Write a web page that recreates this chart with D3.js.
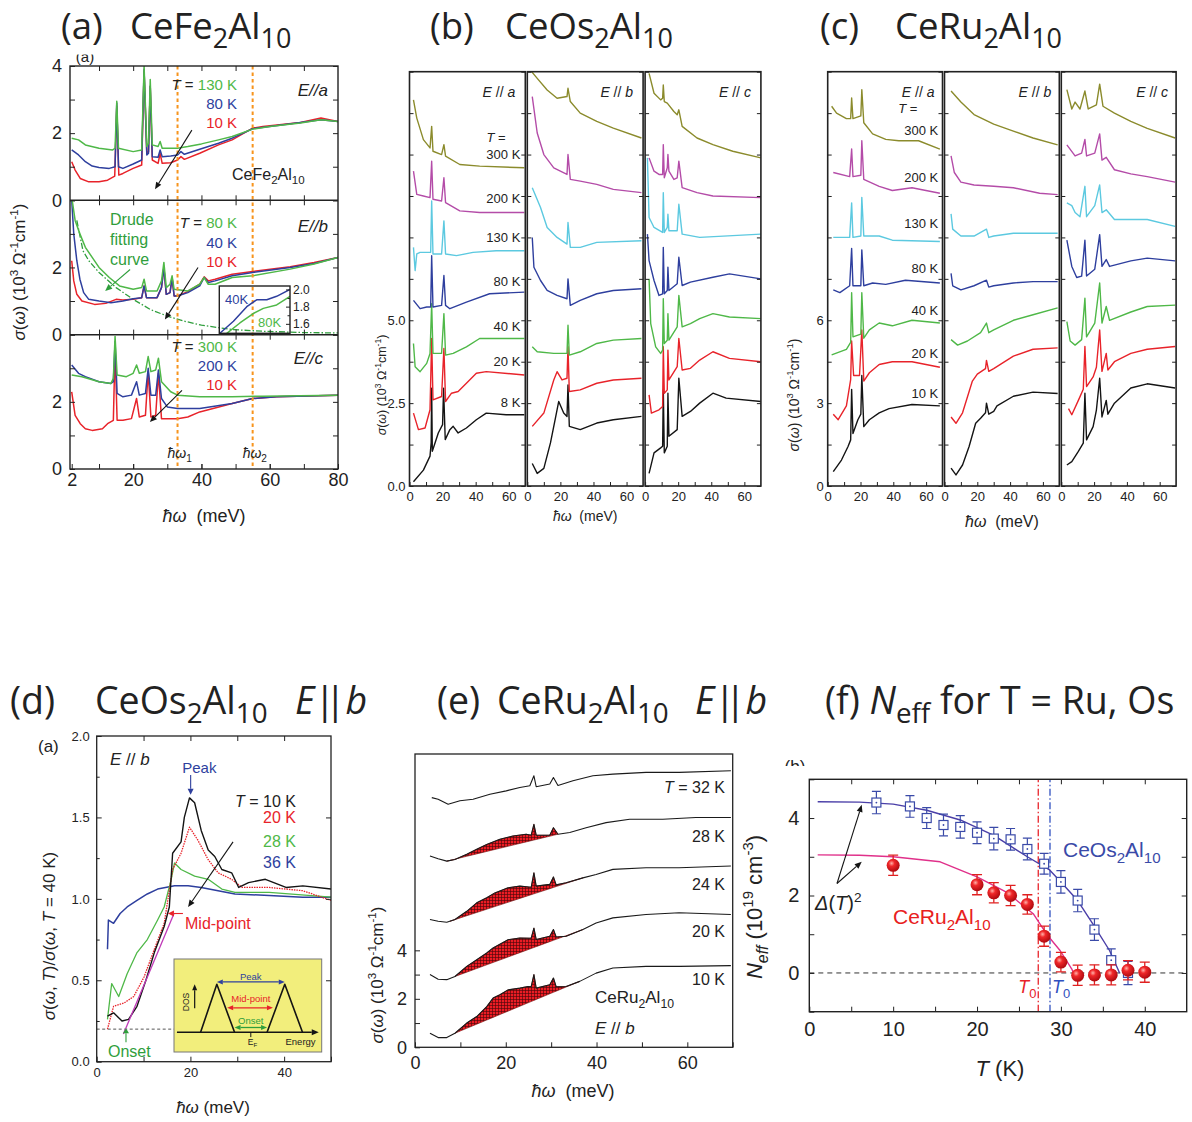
<!DOCTYPE html>
<html>
<head>
<meta charset="utf-8">
<script src="https://cdn.jsdelivr.net/npm/d3@7"></script>
<style>
  body { margin: 0; background: #fff; }
  svg text { white-space: pre; }
</style>
</head>
<body>
<svg id="fig" width="1192" height="1122"></svg>
<script>
// ===================== (a) CeFe2Al10 : sigma(omega) [10^3 Ohm^-1 cm^-1] vs meV =====================
const a_Ea_130K = [[2,1.85],[4,1.8],[6,1.65],[10,1.55],[14,1.5],[14.7,1.55],[15.2,2.95],[15.7,1.55],[20,1.45],[22.5,1.5],[23.2,4.0],[24,1.6],[24.5,1.7],[25,3.6],[25.6,1.65],[27.3,1.6],[27.9,1.75],[28.5,1.55],[33,1.55],[36,1.6],[40,1.68],[45,1.8],[49,1.9],[55,2.12],[60,2.2],[69,2.3],[75,2.4],[80,2.35]];
const a_Ea_80K  = [[2,1.5],[4,1.35],[6,1.15],[8,1.02],[10,0.98],[13,0.95],[14.7,1.0],[15.2,2.9],[15.7,1.0],[17,0.95],[20,1.08],[22.5,1.2],[23.2,3.9],[24,1.35],[24.5,1.4],[25,3.4],[25.6,1.3],[27.3,1.28],[27.9,1.5],[28.5,1.3],[31,1.32],[33,1.35],[34,1.45],[35,1.37],[39.5,1.52],[45,1.7],[49,1.85],[55,2.13],[60,2.2],[69,2.32],[75,2.4],[80,2.35]];
const a_Ea_10K  = [[2,1.15],[3,0.9],[4.5,0.65],[7,0.55],[10,0.55],[12.5,0.6],[14.6,0.72],[15.2,2.8],[15.8,0.75],[17,0.8],[20,0.95],[22.5,1.05],[23.2,3.85],[24,1.4],[24.5,1.45],[25,3.4],[25.6,1.2],[27.3,1.1],[27.9,1.4],[28.5,1.1],[31,1.12],[33,1.2],[34,1.3],[35,1.22],[39.5,1.4],[45,1.65],[49,1.8],[55,2.15],[58,2.2],[69,2.32],[75,2.45],[80,2.35]];

const a_Eb_80K = [[2,4.1],[3,3.4],[4.4,3.0],[6,2.6],[8,2.3],[10,2.0],[13,1.7],[16,1.45],[20,1.35],[22.5,1.4],[23.2,1.65],[23.9,1.3],[27,1.3],[28.3,1.6],[29,2.15],[29.7,1.4],[30.8,1.5],[31.4,1.75],[32,1.35],[36,1.3],[39.5,1.5],[40.8,1.7],[42,1.5],[44,1.5],[49,1.7],[55,1.75],[66,1.95],[73,2.1],[80,2.3]];
const a_Eb_40K = [[2,4.0],[2.6,3.0],[3.5,2.2],[4.4,1.65],[5.5,1.25],[7,1.05],[10,1.0],[13.5,0.95],[17,1.0],[20,1.07],[22.5,1.1],[23.2,1.45],[23.9,1.1],[27,1.1],[28.3,1.4],[29,2.0],[29.7,1.2],[30.8,1.25],[31.4,1.7],[32,1.15],[33,1.15],[36,1.25],[39.5,1.45],[40.8,1.7],[42,1.55],[44,1.6],[49,1.75],[55,1.85],[66,2.0],[73,2.12],[80,2.3]];
const a_Eb_10K = [[2,2.2],[2.6,1.6],[3.5,1.2],[5,1.0],[8.7,0.9],[12,0.93],[15,1.05],[17,1.03],[20,1.05],[22.5,1.1],[23.2,1.45],[23.9,1.1],[27,1.1],[28.3,1.4],[29,2.0],[29.7,1.2],[30.8,1.25],[31.4,1.7],[32,1.15],[33,1.15],[36,1.28],[39.5,1.5],[40.8,1.72],[42,1.6],[44,1.65],[49,1.8],[55,1.88],[66,2.02],[73,2.15],[80,2.3]];
const a_drude  = [[3.5,3.4],[5.3,2.5],[7,2.2],[10,1.85],[15,1.4],[20,1.05],[25,0.75],[30,0.55],[35,0.4],[40,0.28],[49,0.15],[58,0.1],[70,0.06],[80,0.05]];
// inset of the E//b frame
const a_in_40K = [[45.3,1.49],[52,1.63],[58.6,1.8],[63.5,1.88],[68.5,1.88],[73.4,1.92],[80,2.0]];
const a_in_80K = [[48.7,1.49],[55.2,1.61],[61.8,1.72],[66.8,1.78],[73.4,1.82],[80,1.92]];

const a_Ec_300K = [[2,2.8],[5,2.75],[10,2.6],[13.5,2.55],[14.2,2.7],[14.7,3.95],[15.3,2.8],[18,2.75],[20,2.85],[21,3.1],[21.8,2.85],[23.6,2.9],[24.4,3.35],[25.2,2.9],[26.6,2.95],[27.4,3.3],[28.3,2.6],[31,2.3],[33,2.2],[39.5,2.15],[49,2.15],[58,2.17],[80,2.2]];
const a_Ec_200K = [[2,3.1],[4,2.85],[6,2.75],[10,2.6],[13.5,2.55],[14.2,2.6],[14.7,3.8],[15.3,2.25],[17,2.15],[19.5,2.2],[21,2.6],[21.8,2.2],[23.6,2.25],[24.4,3.0],[25.2,2.2],[26.6,2.2],[27.4,2.95],[28.3,2.1],[30,1.85],[33,1.8],[39.5,1.8],[49,1.95],[55,2.1],[62,2.15],[80,2.2]];
const a_Ec_10K  = [[2,2.3],[3,1.6],[4.5,1.35],[6,1.2],[8,1.15],[11,1.2],[12.5,1.35],[14.2,1.45],[14.7,3.6],[15.3,1.45],[17,1.45],[19.5,1.5],[21,2.1],[21.8,1.55],[23.6,1.6],[24.4,2.9],[25.2,1.55],[26.6,1.6],[27.4,2.85],[28.3,1.5],[30,1.5],[33,1.5],[36,1.55],[39.5,1.7],[49,1.95],[55,2.1],[62,2.15],[80,2.2]];
const a_omegaMarks = [33, 55];

// ===================== (b) CeOs2Al10 : 8 K ... 300 K =====================
const b_a_8K   = [[2.4,0.13],[8.4,0.48],[12.4,0.9],[13.1,1.3],[13.4,2.95],[13.8,1.05],[17.4,1.6],[20,1.85],[20.6,2.95],[21.6,1.4],[24.4,1.7],[26.4,1.8],[29.4,1.6],[34.4,1.75],[40.4,2.0],[46.4,2.2],[58.4,2.15],[69.4,2.15]];
const b_a_20K  = [[2.4,2.2],[5.4,1.7],[9.4,1.75],[12.4,2.3],[13.4,4.45],[14.2,2.6],[19.4,2.7],[20.8,4.15],[21.8,2.55],[25.4,2.8],[29.4,2.85],[34.4,3.1],[40.4,3.4],[46.4,3.45],[69.4,3.35]];
const b_a_40K  = [[2.4,4.3],[3.4,3.6],[6.4,3.45],[10.4,3.7],[12.4,4.0],[13.4,5.5],[14.2,4.0],[19.4,4.0],[20.8,5.2],[21.8,3.95],[26.4,4.0],[34.4,4.2],[42.4,4.45],[69.4,4.45]];
const b_a_80K  = [[2.4,5.6],[6.4,5.35],[10.4,5.4],[12.8,5.4],[13.4,6.95],[14.2,5.4],[19.4,5.45],[20.8,6.35],[21.8,5.45],[24.4,5.35],[34.4,5.55],[48.4,5.8],[69.4,5.85]];
const b_a_130K = [[2.4,7.2],[3.4,6.5],[4.4,7.0],[6.4,7.05],[12.8,7.05],[13.4,8.6],[14.2,7.0],[19.4,7.0],[20.8,8.0],[21.8,7.0],[28.4,6.95],[38.4,7.05],[52.4,7.1],[69.4,7.1]];
const b_a_200K = [[2.4,9.5],[4.4,8.8],[8.4,8.75],[12.4,8.7],[13.4,9.8],[14.2,8.65],[19.4,8.6],[20.8,9.3],[21.8,8.55],[30.4,8.3],[42.4,8.25],[69.4,8.25]];
const b_a_300K = [[2.4,11.65],[4.4,11.1],[8.4,10.45],[12.4,10.2],[13.4,10.85],[14.2,10.1],[19.4,10.0],[20.8,10.3],[21.8,9.95],[30.4,9.7],[42.4,9.65],[69.4,9.6]];

const b_b_8K   = [[3,0.68],[6,0.38],[10,0.53],[14,1.3],[17,2.05],[19,2.55],[22,2.2],[24,2.1],[24.6,3.05],[25.4,1.8],[32,1.7],[42,1.9],[52,2.0],[69,2.1]];
const b_b_20K  = [[3,1.8],[10,2.2],[16,3.2],[18,3.45],[21,3.2],[24,3.25],[24.6,4.2],[25.4,2.85],[32,2.9],[42,3.1],[52,3.2],[69,3.25]];
const b_b_40K  = [[3,4.2],[6,4.05],[16,4.0],[24,4.0],[24.6,4.85],[25.4,3.95],[32,4.05],[42,4.3],[52,4.4],[69,4.45]];
const b_b_80K  = [[3,7.5],[4,6.6],[8,6.2],[12,5.9],[18,5.75],[24,5.65],[24.6,6.25],[26,5.45],[32,5.6],[42,5.8],[52,5.9],[69,5.95]];
const b_b_130K = [[3,9.0],[8,8.4],[12,7.8],[18,7.5],[24,7.3],[24.6,7.95],[26,7.2],[32,7.2],[42,7.35],[69,7.4]];
const b_b_200K = [[3,11.75],[6,10.65],[10,10.0],[16,9.6],[24,9.4],[24.6,10.0],[26,9.25],[32,9.2],[42,9.1],[52,8.95],[69,8.85]];
const b_b_300K = [[1,12.6],[6,12.3],[12,11.95],[18,11.7],[24,11.75],[24.6,12.0],[26,11.6],[32,11.25],[42,11.0],[52,10.8],[69,10.5]];

const b_c_8K   = [[2.4,0.38],[5.4,1.0],[9.4,1.15],[10.6,1.2],[11,2.9],[11.6,1.0],[13.4,1.2],[13.8,2.8],[14.4,1.5],[19.4,1.7],[20.4,3.25],[22.4,2.1],[27.4,2.25],[33,2.5],[41,2.8],[49,2.65],[70,2.55]];
const b_c_20K  = [[2.4,2.75],[3.8,2.2],[8.4,2.3],[10.6,2.4],[11,4.2],[11.6,2.8],[13.4,2.9],[13.8,4.1],[14.4,3.2],[19.4,3.6],[20.4,4.45],[22.4,3.5],[27.4,3.55],[33,3.8],[41,4.05],[51,3.85],[70,3.75]];
const b_c_40K  = [[2.4,6.25],[3.4,4.9],[6.4,4.2],[9.4,4.0],[10.6,4.1],[11,5.65],[11.6,4.3],[13.4,4.4],[13.8,5.2],[14.4,4.4],[19.4,4.8],[20.4,5.75],[22.4,4.8],[27.4,4.9],[33,5.05],[41,5.2],[51,5.1],[70,5.05]];
const b_c_80K  = [[1.4,7.6],[2.4,6.8],[5.4,6.2],[8.4,5.75],[10.6,5.8],[11,7.2],[11.6,5.8],[13.4,5.9],[13.8,6.6],[14.4,5.9],[19.4,6.1],[20.4,6.9],[22.4,6.05],[27.4,6.15],[41,6.3],[51,6.4],[70,6.25]];
const b_c_130K = [[1.4,9.9],[2.4,8.1],[5.4,7.8],[10.6,7.65],[11,8.85],[11.6,7.65],[13.4,7.8],[13.8,8.2],[14.4,7.7],[19.4,7.7],[20.4,8.5],[22.4,7.6],[33,7.5],[70,7.6]];
const b_c_200K = [[2.4,9.9],[5.4,9.5],[8.4,9.4],[10.6,9.4],[11,10.3],[11.6,9.3],[13.4,9.6],[13.8,10.0],[14.4,9.5],[17.4,9.25],[19.4,9.3],[20.4,9.8],[22.4,9.0],[31.4,8.85],[41,8.75],[70,8.7]];
const b_c_300K = [[2.4,12.45],[5.4,11.85],[9.4,11.65],[10.6,11.7],[11,12.1],[11.6,11.6],[13.4,11.55],[17.4,11.3],[19.4,11.2],[20.4,11.35],[22.4,10.85],[31.4,10.5],[41,10.3],[53,10.1],[70,9.9]];
const b_temps = ['8 K', '20 K', '40 K', '80 K', '130 K', '200 K', '300 K'];
const b_tempLabelY = [2.38, 3.62, 4.67, 6.03, 7.36, 8.54, 9.87];

// ===================== (c) CeRu2Al10 : 10 K ... 300 K =====================
const c_a_10K   = [[3.4,0.52],[8.4,0.94],[12.4,1.43],[14,1.67],[14.6,3.5],[15.4,1.9],[18.4,2.4],[20.2,2.6],[20.8,4.0],[22,2.15],[25.4,2.4],[31.4,2.65],[37.4,2.8],[51.4,2.95],[68.4,2.9]];
const c_a_20K   = [[3.4,2.6],[6.4,2.4],[11.4,2.9],[14,3.85],[14.6,5.25],[15.8,4.0],[19.4,4.0],[20.8,5.65],[22,3.8],[25.4,4.1],[31.4,4.4],[39.4,4.5],[51.4,4.5],[68.4,4.3]];
const c_a_40K   = [[2.4,4.75],[11.4,4.95],[14,5.2],[14.6,7.0],[15.4,5.4],[20.2,5.5],[20.8,7.0],[22,5.35],[25.4,5.65],[31.4,5.9],[39.4,5.8],[51.4,6.0],[68.4,5.9]];
const c_a_80K   = [[3.4,7.1],[7.4,7.0],[13.4,7.25],[14.6,8.6],[15.4,7.25],[20.2,7.25],[20.8,8.55],[22,7.25],[27.4,7.35],[35.4,7.3],[47.4,7.45],[68.4,7.35]];
const c_a_130K  = [[3.4,9.0],[13.4,9.0],[14.6,10.25],[15.4,9.0],[20.2,9.05],[20.8,10.45],[22,9.05],[31.4,9.05],[39.4,8.9],[68.4,8.85]];
const c_a_200K  = [[3.4,11.35],[13.4,11.2],[14.6,12.2],[15.4,11.2],[20.2,11.25],[20.8,12.5],[22,11.1],[31.4,10.85],[39.4,10.7],[51.4,10.8],[68.4,10.6]];
const c_a_300K  = [[2.4,13.75],[5.4,13.5],[11.4,13.3],[14,13.3],[14.6,14.05],[15.4,13.3],[20.2,13.4],[20.8,14.35],[22,13.15],[27.4,12.75],[35.4,12.55],[43.4,12.5],[55.4,12.5],[68.4,12.2]];

const c_b_10K   = [[4,0.65],[7,0.4],[11,0.76],[15,1.43],[19,2.27],[22,2.45],[25,2.65],[25.6,3.0],[27,2.6],[30,2.7],[32,2.9],[42,3.25],[54,3.4],[69,3.35]];
const c_b_20K   = [[4,2.5],[7,2.27],[11,2.65],[17,3.8],[20,4.05],[25,4.25],[25.6,4.55],[27,4.15],[30,4.25],[42,4.7],[54,4.95],[69,5.0]];
const c_b_40K   = [[4,5.3],[8,5.1],[14,5.25],[22,5.55],[25.6,5.9],[27,5.55],[30,5.65],[42,6.0],[54,6.2],[69,6.45]];
const c_b_80K   = [[4,7.7],[5,7.25],[10,7.1],[18,7.25],[25.6,7.45],[27,7.2],[30,7.25],[42,7.35],[54,7.4],[69,7.4]];
const c_b_130K  = [[4,9.85],[5,9.3],[10,9.05],[18,9.05],[25.6,9.3],[27,9.0],[30,9.05],[42,9.15],[69,9.15]];
const c_b_200K  = [[4,11.95],[6,11.35],[10,11.0],[18,10.9],[30,10.85],[42,10.8],[58,10.6],[69,10.55]];
const c_b_300K  = [[4,14.3],[10,13.9],[18,13.45],[30,13.1],[42,12.85],[54,12.6],[69,12.35]];

const c_c_10K   = [[3.4,0.76],[6.4,0.88],[10.4,1.25],[13.4,1.55],[14.4,3.36],[15.4,1.67],[19.4,2.15],[21.4,2.75],[23.4,3.9],[24.8,2.5],[27.4,3.1],[28.4,2.6],[32.4,3.0],[42.4,3.55],[52.4,3.7],[69.4,3.55]];
const c_c_20K   = [[4.4,2.8],[6.4,2.58],[10.4,3.1],[13.4,3.5],[14.4,5.05],[15.4,3.6],[19.4,3.95],[21.4,4.3],[23.4,5.65],[24.8,4.15],[27.4,4.8],[28.4,4.2],[32.4,4.5],[42.4,4.8],[52.4,4.95],[69.4,5.05]];
const c_c_40K   = [[3.4,5.95],[5.4,5.25],[8.4,5.1],[12.4,5.3],[14.4,6.8],[15.4,5.4],[20.4,5.9],[23.4,7.35],[24.8,5.9],[27.4,6.5],[29.4,6.0],[42.4,6.3],[52.4,6.5],[69.4,6.55]];
const c_c_80K   = [[3.4,8.9],[6.4,7.95],[9.4,7.55],[12.4,7.6],[14.4,8.9],[15.4,7.6],[20.4,7.85],[23.4,9.1],[24.8,7.95],[27.4,8.2],[29.4,7.95],[42.4,8.15],[52.4,8.25],[69.4,8.15]];
const c_c_130K  = [[3.4,10.25],[6.4,10.15],[8.4,9.9],[11.4,9.75],[14.4,10.85],[15.4,9.75],[20.4,10.15],[23.4,10.9],[24.8,9.9],[27.4,10.0],[32.4,9.65],[52.4,9.65],[69.4,9.4]];
const c_c_200K  = [[3.4,12.35],[8.4,11.95],[12.4,12.05],[14.4,12.55],[15.4,11.95],[20.4,12.05],[23.4,12.75],[24.8,11.8],[27.4,11.9],[32.4,11.45],[42.4,11.3],[52.4,11.2],[69.4,11.0]];
const c_c_300K  = [[3.4,14.35],[6.4,13.65],[8.4,13.9],[11.4,13.65],[14.4,14.3],[16.4,13.65],[21.4,13.8],[23.4,14.55],[25.4,13.75],[32.4,13.5],[42.4,13.2],[52.4,12.95],[69.4,12.6]];
const c_temps = ['10 K', '20 K', '40 K', '80 K', '130 K', '200 K', '300 K'];
const c_tempLabelY = [3.19, 4.63, 6.19, 7.71, 9.34, 11.0, 12.71];

// ===================== (d) CeOs2Al10 E||b : sigma(T)/sigma(40 K) =====================
const d_10K = [[2.3,0.28],[3.6,0.3],[5.4,0.25],[6.8,0.26],[8.6,0.34],[10.5,0.5],[12.3,0.67],[14.4,0.83],[15.5,0.95],[16.2,1.28],[18,1.35],[18.7,1.5],[19.8,1.62],[20.9,1.59],[22.3,1.42],[23.8,1.3],[25.2,1.26],[26.7,1.18],[28.8,1.16],[30.3,1.07],[32.4,1.1],[36,1.12],[40.4,1.07],[44,1.08],[50,1.06]];
const d_20K = [[2.3,0.2],[3.6,0.34],[5.8,0.36],[7.9,0.4],[10.1,0.52],[12.3,0.69],[14.4,0.85],[16.2,1.18],[18,1.28],[19.8,1.44],[21.6,1.36],[23.8,1.24],[25.9,1.16],[28.8,1.12],[31,1.07],[36.8,1.07],[44,1.05],[50,0.99]];
const d_28K = [[2.3,0.26],[3.2,0.48],[4.7,0.4],[6.5,0.54],[8.6,0.67],[10.8,0.75],[13,0.87],[14.4,0.95],[15.9,1.12],[16.6,1.22],[18,1.18],[20.9,1.14],[23.8,1.12],[26.7,1.06],[29.5,1.04],[36.8,1.04],[50,1.01]];
const d_36K = [[2.3,0.69],[2.5,0.87],[3.6,0.85],[5,0.91],[6.5,0.95],[8.6,0.99],[10.8,1.03],[13,1.06],[16.6,1.08],[19.5,1.08],[22.3,1.07],[29.5,1.03],[36.8,1.02],[44,1.01],[50,1.01]];
const d_onsetFit = [[5.7,0.17],[16.5,0.91]];
const d_onsetLevel = 0.2;

// ===================== (e) CeRu2Al10 E||b : stacked spectra with gap area =====================
const e_10K = [[3.3,0.58],[5.1,0.4],[7,0.4],[8.8,0.58],[11.4,1.0],[13.6,1.27],[15.8,1.68],[17.2,2.03],[18.7,2.17],[20.5,2.37],[23.1,2.44],[24.9,2.51],[25.6,2.5],[26.2,3.0],[26.7,2.44],[29.7,2.58],[30.5,2.86],[31.1,2.5],[33.3,2.51],[36.3,2.72],[39.9,3.06],[43.6,3.27],[50.9,3.34],[58.2,3.34],[69.6,3.37]];
const e_20K = [[3.3,3.0],[5.1,2.81],[7,2.79],[8.8,2.92],[11.4,3.34],[13.6,3.61],[15.8,3.89],[17.2,4.1],[20.5,4.44],[23.1,4.51],[25.6,4.5],[26.2,4.92],[26.7,4.45],[29.7,4.58],[30.5,4.86],[31.1,4.55],[33.3,4.58],[37,4.86],[39.9,5.13],[43.6,5.34],[50.9,5.48],[58.2,5.55],[69.6,5.48]];
const e_24K = [[3.3,5.27],[5.1,5.2],[7,5.16],[8.8,5.27],[11.4,5.61],[13.6,5.96],[15.8,6.17],[17.6,6.37],[20.5,6.58],[23.1,6.65],[25.6,6.6],[26.2,7.2],[26.7,6.65],[29.7,6.72],[30.5,7.03],[31.1,6.7],[33.3,6.79],[37,6.99],[39.9,7.13],[43.6,7.34],[50.9,7.41],[58.2,7.41],[69.6,7.48]];
const e_28K = [[3.3,7.89],[5.1,7.78],[7,7.68],[8.8,7.75],[11.4,7.96],[13.6,8.17],[15.8,8.37],[18.7,8.58],[21.6,8.72],[24.5,8.79],[25.6,8.75],[26.2,9.2],[26.7,8.75],[29.7,8.75],[30.5,9.06],[31.5,8.79],[34.1,8.86],[37.7,9.06],[42.1,9.27],[47.3,9.41],[54.6,9.41],[61.9,9.48],[69.6,9.48]];
const e_32K = [[3.7,10.3],[5.1,10.23],[7.3,10.03],[9.9,10.17],[12.8,10.23],[16.5,10.44],[20.1,10.58],[23.1,10.72],[25.3,10.79],[26.2,11.2],[26.7,10.75],[29.7,10.86],[30.5,11.13],[31.5,10.8],[34.8,11.0],[39.2,11.2],[43.6,11.27],[50.9,11.34],[58.2,11.34],[69.6,11.41]];
const e_base10 = [[8.8,0.58],[36.3,2.72]];
const e_base20 = [[8.8,2.92],[37,4.86]];
const e_base24 = [[7.7,5.2],[37,6.99]];
const e_base28 = [[7,7.68],[31.5,8.79]];
const e_temps = ['10 K', '20 K', '24 K', '28 K', 'T = 32 K'];
const e_tempLabelY = [2.57, 4.55, 6.49, 8.47, 10.5];

// ===================== (f) N_eff vs T =====================
const f_os_T   = [8,12,14,16,18,20,22,24,26,28,30,32,34,36,38];
const f_os_N   = [4.4,4.3,4.0,3.82,3.77,3.62,3.47,3.45,3.2,2.82,2.35,1.87,1.12,0.33,0.0];
const f_os_err = [0.29,0.28,0.27,0.28,0.29,0.28,0.29,0.28,0.28,0.27,0.29,0.29,0.28,0.29,0.3];
const f_ru_T   = [10,20,22,24,26,28,30,32,34,36,38,40];
const f_ru_N   = [2.78,2.28,2.07,2.0,1.77,0.95,0.28,-0.06,-0.05,-0.05,0.07,0.02];
const f_ru_err = [0.26,0.26,0.26,0.26,0.25,0.26,0.25,0.26,0.26,0.26,0.25,0.26];
const f_os_fit = [[1,4.42],[6,4.41],[10,4.36],[14,4.2],[18,3.95],[22,3.55],[26,3.0],[28.6,2.67],[30,2.35],[32,1.87],[34,1.2],[35.8,0.58],[37,0.0]];
const f_ru_fit = [[1,3.05],[6,3.04],[10,3.0],[15.6,2.87],[20,2.48],[23.5,2.09],[26.7,1.53],[28.3,1.0],[29.9,0.58],[31.3,0.1],[31.5,0.0]];
const f_T0 = { ru: 27.3, os: 28.7 };

// ===================== drawing helpers =====================
const FONT = '"Liberation Sans", Arial, Helvetica, sans-serif';
const TFONT = '"Open Sans", "Noto Sans", sans-serif';
const COL = { red: '#e8232a', blue: '#2e3f9e', green: '#4fb848', cyan: '#5cc9e0', magenta: '#b44ca8',
              olive: '#8b8b2c', black: '#141414', orange: '#f7941d', ink: '#222' };
const svg = d3.select('#fig');
const defs = svg.append('defs');

let clipN = 0;
function clipRect(x, y, w, h) {
  const id = 'clip' + (clipN++);
  defs.append('clipPath').attr('id', id).append('rect').attr('x', x).attr('y', y).attr('width', w).attr('height', h);
  return `url(#${id})`;
}

// text with italic / sub / superscript runs; a run may also carry its own colour or letter spacing
function rich(g, x, y, parts, fs, o = {}) {
  const t = g.append('text').attr('font-size', fs)
    .attr('font-family', o.family || FONT).attr('fill', o.fill || COL.ink)
    .attr('text-anchor', o.anchor || 'start');
  if (o.rotate) t.attr('x', 0).attr('y', 0).attr('transform', `translate(${x},${y}) rotate(-90)`);
  else t.attr('x', x).attr('y', y);
  let shift = 0;
  parts.forEach(p => {
    const [s, k = '', col, ls] = Array.isArray(p) ? p : [p];
    let target = 0, size = fs;
    if (k.includes('sub')) { target = fs * (o.subShift || 0.28); size = fs * (o.subSize || 0.72); }
    if (k.includes('sup')) { target = -fs * 0.4; size = fs * 0.68; }
    const ts = t.append('tspan').text(s).attr('font-size', size).attr('dy', target - shift);
    if (k.includes('i')) ts.attr('font-style', 'italic');
    if (col) ts.attr('fill', col);
    if (ls !== undefined) ts.attr('letter-spacing', ls);
    shift = target;
  });
  return t;
}

function arrow(g, x1, y1, x2, y2, col, o = {}) {
  const sw = o.sw || 1.1, hl = o.hl || 7, hw = o.hw || 3;
  const ang = Math.atan2(y2 - y1, x2 - x1);
  const head = (xe, ye, a) => {
    const bx = xe - hl * Math.cos(a), by = ye - hl * Math.sin(a);
    const px = -Math.sin(a) * hw, py = Math.cos(a) * hw;
    g.append('path').attr('d', `M${xe},${ye}L${bx + px},${by + py}L${bx - px},${by - py}Z`).attr('fill', col);
    return [bx, by];
  };
  const [ex, ey] = head(x2, y2, ang);
  let sx = x1, sy = y1;
  if (o.both) [sx, sy] = head(x1, y1, ang + Math.PI);
  g.append('line').attr('x1', sx).attr('y1', sy).attr('x2', ex).attr('y2', ey)
    .attr('stroke', col).attr('stroke-width', sw);
}

// inward ticks on one side; labels only for values listed in o.labels
function sideAxis(g, scale, orient, pos, values, o = {}) {
  const mk = { bottom: d3.axisBottom, top: d3.axisTop, left: d3.axisLeft, right: d3.axisRight }[orient];
  const tr = (orient === 'bottom' || orient === 'top') ? `translate(0,${pos})` : `translate(${pos},0)`;
  const fmt = o.fmt || (d => String(d));
  const lab = o.labels || [];
  const ax = mk(scale).tickValues(values).tickSize(-(o.len || 5)).tickPadding(o.pad || 4)
    .tickFormat(d => lab.some(v => Math.abs(v - d) < 1e-9) ? fmt(d) : '');
  const a = g.append('g').attr('transform', tr).call(ax);
  a.select('.domain').remove();
  a.selectAll('line').attr('stroke', COL.ink).attr('stroke-width', o.sw || 1);
  a.selectAll('text').attr('font-size', o.fs || 13).attr('fill', COL.ink).attr('font-family', FONT);
  return a;
}

function frame(g, x, y, sw) {
  const [x0, x1] = x.range(), [y0, y1] = y.range();
  g.append('rect').attr('x', Math.min(x0, x1)).attr('y', Math.min(y0, y1))
    .attr('width', Math.abs(x1 - x0)).attr('height', Math.abs(y1 - y0))
    .attr('fill', 'none').attr('stroke', COL.ink).attr('stroke-width', sw || 1.3);
}

function curve(g, data, x, y, col, sw, dash) {
  const p = g.append('path').datum(data)
    .attr('d', d3.line().x(d => x(d[0])).y(d => y(d[1])))
    .attr('fill', 'none').attr('stroke', col).attr('stroke-width', sw || 1.4)
    .attr('stroke-linejoin', 'round');
  if (dash) p.attr('stroke-dasharray', dash);
  return p;
}

const sigmaLabel = [['σ', 'i'], '(', ['ω', 'i'], ') (10', ['3', 'sup'], ' Ω', ['-1', 'sup'], 'cm', ['-1', 'sup'], ')'];
const hwLabel = [['ħω', 'i'], '  (meV)'];

// ===================== titles =====================
const titles = svg.append('g').attr('font-family', TFONT);
const TFS = 36.5, BFS = 37.5, TB = 39, BB = 714;
const tf = { family: TFONT, subShift: 0.24, subSize: 0.74 };
const eParB = [['E', 'i'], ['|', '', null, -10], ['|', '', null, 0], ['b', 'i']];
rich(titles, 61, TB, ['(a)'], TFS, tf);
rich(titles, 130, TB, ['CeFe', ['2', 'sub'], 'Al', ['10', 'sub']], TFS, tf);
rich(titles, 430, TB, ['(b)'], TFS, tf);
rich(titles, 505, TB, ['CeOs', ['2', 'sub'], 'Al', ['10', 'sub']], TFS, tf);
rich(titles, 820, TB, ['(c)'], TFS, tf);
rich(titles, 895, TB, ['CeRu', ['2', 'sub'], 'Al', ['10', 'sub']], TFS, tf);
rich(titles, 10, BB, ['(d)'], BFS, tf);
rich(titles, 95, BB, ['CeOs', ['2', 'sub'], 'Al', ['10', 'sub']], BFS, tf);
rich(titles, 295, BB, eParB, BFS, tf);
rich(titles, 437, BB, ['(e)'], BFS, tf);
rich(titles, 497, BB, ['CeRu', ['2', 'sub'], 'Al', ['10', 'sub']], BFS, tf);
rich(titles, 695, BB, eParB, BFS, tf);
rich(titles, 825, BB, ['(f) ', ['N', 'i'], ['eff', 'sub'], ' for T = Ru, Os'], BFS, tf);

// ===================== panel (a) =====================
(function () {
  const g = svg.append('g');
  const xA = d3.scaleLinear().domain([1.5, 80]).range([70, 338]);
  const tops = [66, 200.3, 334.7], H = 134.3;
  const ys = tops.map(t => d3.scaleLinear().domain([0, 4]).range([t + H, t]));
  const TF = 18;

  // leftover sub-label peeking out above the frame
  const cl = clipRect(60, 54.5, 60, 12);
  g.append('text').attr('x', 85).attr('y', 62).attr('font-size', 15).attr('font-family', FONT)
    .attr('text-anchor', 'middle').attr('clip-path', cl).attr('fill', COL.ink).text('(a)');

  const subs = [
    { curves: [[a_Ea_10K, COL.red], [a_Ea_80K, COL.blue], [a_Ea_130K, COL.green]], labels: [0, 2, 4] },
    { curves: [[a_Eb_10K, COL.red], [a_Eb_40K, COL.blue], [a_Eb_80K, COL.green]], labels: [0, 2] },
    { curves: [[a_Ec_10K, COL.red], [a_Ec_200K, COL.blue], [a_Ec_300K, COL.green]], labels: [0, 2] }
  ];
  subs.forEach((s, i) => {
    const y = ys[i];
    const cp = g.append('g').attr('clip-path', clipRect(70, tops[i], 268, H));
    if (i === 1) curve(cp, a_drude, xA, y, '#2f9e3c', 1.3, '6,2,1.5,2');
    s.curves.forEach(([d, c]) => curve(cp, d, xA, y, c, 1.5));
    sideAxis(g, y, 'left', 70, [0, 1, 2, 3, 4], { labels: s.labels, fs: TF, pad: 8, len: 5 });
    sideAxis(g, y, 'right', 338, [0, 1, 2, 3, 4], { len: 5 });
    sideAxis(g, xA, 'bottom', tops[i] + H, [10, 20, 30, 40, 50, 60, 70], { len: 5 });
    sideAxis(g, xA, 'top', tops[i], [10, 20, 30, 40, 50, 60, 70], { len: 5 });
  });
  // bottom labels
  sideAxis(g, xA, 'bottom', tops[2] + H, [2, 20, 40, 60, 80], { labels: [2, 20, 40, 60, 80], fs: TF, pad: 4, len: 0 });

  // characteristic energies
  a_omegaMarks.forEach(v => {
    g.append('line').attr('x1', xA(v)).attr('x2', xA(v)).attr('y1', tops[0]).attr('y2', tops[2] + H)
      .attr('stroke', COL.orange).attr('stroke-width', 2).attr('stroke-dasharray', '3.5,3');
  });

  // inset (E//b, 40 K vs 80 K)
  const xi = d3.scaleLinear().domain([45, 80]).range([219.3, 290]);
  const yi = d3.scaleLinear().domain([1.49, 2.04]).range([333.3, 286]);
  const ig = g.append('g');
  const icp = ig.append('g').attr('clip-path', clipRect(219.3, 286, 70.7, 47.3));
  curve(icp, a_in_80K, xi, yi, COL.green, 1.5);
  curve(icp, a_in_40K, xi, yi, COL.blue, 1.5);
  frame(ig, xi, yi, 1.4);
  sideAxis(ig, yi, 'right', 290, [1.6, 1.8, 2.0], { labels: [1.6, 1.8, 2.0], fmt: d3.format('.1f'), fs: 12, pad: 3, len: 4 });
  sideAxis(ig, yi, 'right', 290, [1.7, 1.9], { len: 2.5 });
  ig.append('text').attr('x', 225).attr('y', 304).attr('font-size', 13).attr('font-family', FONT).attr('fill', COL.blue).text('40K');
  ig.append('text').attr('x', 258).attr('y', 327).attr('font-size', 13).attr('font-family', FONT).attr('fill', COL.green).text('80K');

  // frame and sub-panel separators
  frame(g, xA, d3.scaleLinear().range([tops[2] + H, tops[0]]), 1.4);
  [tops[1], tops[2]].forEach(t => g.append('line').attr('x1', 70).attr('x2', 338).attr('y1', t).attr('y2', t)
    .attr('stroke', COL.ink).attr('stroke-width', 1.4));

  // annotations
  const LF = 15;
  rich(g, 237, 90, [['T', 'i'], ' = ', ['130 K', '', COL.green]], LF, { anchor: 'end' });
  rich(g, 237, 109, [['80 K', '', COL.blue]], LF, { anchor: 'end' });
  rich(g, 237, 128, [['10 K', '', COL.red]], LF, { anchor: 'end' });
  rich(g, 328, 96, [['E//a', 'i']], 17, { anchor: 'end' });
  rich(g, 232, 180, ['CeFe', ['2', 'sub'], 'Al', ['10', 'sub']], 16);
  arrow(g, xA(37.2), ys[0](2.09), xA(26.4), ys[0](0.33), COL.black);

  rich(g, 110, 225, [['Drude', '', '#2f9e3c']], 16);
  rich(g, 110, 245, [['fitting', '', '#2f9e3c']], 16);
  rich(g, 110, 265, [['curve', '', '#2f9e3c']], 16);
  arrow(g, xA(19.1), ys[1](1.94), xA(11.8), ys[1](1.3), '#2f9e3c');
  rich(g, 237, 228, [['T', 'i'], ' = ', ['80 K', '', COL.green]], LF, { anchor: 'end' });
  rich(g, 237, 248, [['40 K', '', COL.blue]], LF, { anchor: 'end' });
  rich(g, 237, 267, [['10 K', '', COL.red]], LF, { anchor: 'end' });
  rich(g, 328, 232, [['E//b', 'i']], 17, { anchor: 'end' });
  arrow(g, xA(39), ys[1](2.0), xA(29.3), ys[1](0.45), COL.black);

  rich(g, 237, 352, [['T', 'i'], ' = ', ['300 K', '', COL.green]], LF, { anchor: 'end' });
  rich(g, 237, 371, [['200 K', '', COL.blue]], LF, { anchor: 'end' });
  rich(g, 237, 390, [['10 K', '', COL.red]], LF, { anchor: 'end' });
  rich(g, 323, 364, [['E//c', 'i']], 17, { anchor: 'end' });
  arrow(g, xA(34.3), ys[2](2.34), xA(24.9), ys[2](1.4), COL.black);
  rich(g, xA(a_omegaMarks[0]) - 10, 458, [['ħω', 'i'], ['1', 'sub']], 14);
  rich(g, xA(a_omegaMarks[1]) - 10, 458, [['ħω', 'i'], ['2', 'sub']], 14);

  rich(g, 25, 272, sigmaLabel, 17, { rotate: true, anchor: 'middle' });
  rich(g, 204, 522, hwLabel, 18, { anchor: 'middle' });
})();

// ===================== panels (b) and (c) =====================
function stackPanel(o) {
  const g = svg.append('g');
  const y = d3.scaleLinear().domain([0, o.yMax]).range([486, 71.7]);
  const yt = d3.range(0, o.yMax + 1e-6, o.yStep);
  o.subs.forEach((s, i) => {
    const left = o.left + i * (o.w + o.gap);
    const x = d3.scaleLinear().domain([0, 70]).range([left, left + o.w]);
    const cp = g.append('g').attr('clip-path', clipRect(left, 71.7, o.w, 414.3));
    s.curves.forEach((d, k) => curve(cp, d, x, y, o.colors[k], 1.4));
    frame(g, x, y, 1.6);
    sideAxis(g, y, 'left', left, yt, { labels: i === 0 ? o.yLabels : [], fmt: o.yFmt, fs: 13, pad: 4, len: 4 });
    sideAxis(g, y, 'right', left + o.w, yt, { len: 4 });
    sideAxis(g, x, 'bottom', 486, [0, 10, 20, 30, 40, 50, 60], { labels: [0, 20, 40, 60], fs: 13, pad: 6, len: 4 });
    rich(g, left + o.w - o.eRight, o.eLabelY, [['E', 'i'], ' // ', [s.dir, 'i']], 14, { anchor: 'end' });
    if (i === 0) {
      o.temps.forEach((t, k) => rich(g, x(o.tempX), y(o.tempY[k]), [t], 13, { anchor: 'end' }));
      rich(g, x(o.tXLeft), y(o.tY), [['T', 'i'], ' ='], 13);
    }
  });
  const mid = o.left + (3 * o.w + 2 * o.gap) / 2;
  rich(g, mid, o.xLabY, hwLabel, o.xLabFs, { anchor: 'middle' });
  rich(g, o.yLabX, o.yLabCY, sigmaLabel, o.yLabFs, { rotate: true, anchor: 'middle' });
}
const stackColors = [COL.black, COL.red, COL.green, COL.blue, COL.cyan, COL.magenta, COL.olive];

stackPanel({
  left: 409.5, w: 115.8, gap: 2, yMax: 12.5, yStep: 1.25, yLabels: [0, 2.5, 5], yFmt: d3.format('.1f'),
  colors: stackColors, eLabelY: 97, eRight: 10,
  subs: [
    { dir: 'a', curves: [b_a_8K, b_a_20K, b_a_40K, b_a_80K, b_a_130K, b_a_200K, b_a_300K] },
    { dir: 'b', curves: [b_b_8K, b_b_20K, b_b_40K, b_b_80K, b_b_130K, b_b_200K, b_b_300K] },
    { dir: 'c', curves: [b_c_8K, b_c_20K, b_c_40K, b_c_80K, b_c_130K, b_c_200K, b_c_300K] }
  ],
  temps: b_temps, tempY: b_tempLabelY, tempX: 67, tXLeft: 46.5, tY: 10.38,
  xLabY: 521, xLabFs: 14, yLabX: 386, yLabCY: 385, yLabFs: 12.5
});
stackPanel({
  left: 827.7, w: 114.8, gap: 2, yMax: 15, yStep: 1.5, yLabels: [0, 3, 6], yFmt: d => String(d),
  colors: stackColors, eLabelY: 97, eRight: 8,
  subs: [
    { dir: 'a', curves: [c_a_10K, c_a_20K, c_a_40K, c_a_80K, c_a_130K, c_a_200K, c_a_300K] },
    { dir: 'b', curves: [c_b_10K, c_b_20K, c_b_40K, c_b_80K, c_b_130K, c_b_200K, c_b_300K] },
    { dir: 'c', curves: [c_c_10K, c_c_20K, c_c_40K, c_c_80K, c_c_130K, c_c_200K, c_c_300K] }
  ],
  temps: c_temps, tempY: c_tempLabelY, tempX: 67.4, tXLeft: 43, tY: 13.5,
  xLabY: 527, xLabFs: 16, yLabX: 799, yLabCY: 395, yLabFs: 14
});

// ===================== panel (d) =====================
(function () {
  const g = svg.append('g');
  const x = d3.scaleLinear().domain([0, 50]).range([96.7, 331]);
  const y = d3.scaleLinear().domain([0, 2]).range([1061.7, 736]);
  const cp = g.append('g').attr('clip-path', clipRect(96.7, 736, 234.3, 325.7));
  cp.append('line').attr('x1', x(0)).attr('x2', x(17)).attr('y1', y(d_onsetLevel)).attr('y2', y(d_onsetLevel))
    .attr('stroke', '#555').attr('stroke-width', 1).attr('stroke-dasharray', '3,2.5');
  curve(cp, d_36K, x, y, COL.blue, 1.5);
  curve(cp, d_28K, x, y, COL.green, 1.3);
  curve(cp, d_20K, x, y, COL.red, 1.3, '1.5,1');
  curve(cp, d_10K, x, y, COL.black, 1.4);
  curve(cp, d_onsetFit, x, y, '#c03ab8', 1.3);
  frame(g, x, y, 1.3);
  sideAxis(g, y, 'left', 96.7, [0, 0.5, 1, 1.5, 2], { labels: [0, 0.5, 1, 1.5, 2], fmt: d3.format('.1f'), fs: 13, pad: 7, len: 5 });
  sideAxis(g, y, 'left', 96.7, [0.25, 0.75, 1.25, 1.75], { len: 3 });
  sideAxis(g, y, 'right', 331, [0.5, 1, 1.5], { len: 5 });
  sideAxis(g, x, 'bottom', 1061.7, [0, 10, 20, 30, 40, 50], { labels: [0, 20, 40], fs: 13, pad: 6, len: 5 });
  sideAxis(g, x, 'top', 736, [10, 20, 30, 40], { len: 5 });

  rich(g, 38, 752, ['(a)'], 17);
  rich(g, 110, 765, [['E', 'i'], ' // ', ['b', 'i']], 17);
  rich(g, x(21.9), 773, [['Peak', '', COL.blue]], 15, { anchor: 'middle' });
  arrow(g, x(20.05), y(1.76), x(20.05), y(1.64), COL.blue, { hl: 6, hw: 3 });
  rich(g, 296, 807, [['T', 'i'], ' = 10 K'], 16, { anchor: 'end' });
  rich(g, 296, 823, [['20 K', '', COL.red]], 16, { anchor: 'end' });
  rich(g, 296, 847, [['28 K', '', COL.green]], 16, { anchor: 'end' });
  rich(g, 296, 868, [['36 K', '', COL.blue]], 16, { anchor: 'end' });
  arrow(g, x(29.1), y(1.35), x(19.5), y(0.95), COL.black);
  rich(g, 185, 929, [['Mid-point', '', COL.red]], 16);
  arrow(g, x(18.4), y(0.91), x(15.2), y(0.91), COL.red, { hl: 6, hw: 3 });
  rich(g, 108, 1057, [['Onset', '', '#2f9e3c']], 16);
  arrow(g, x(6.25), y(0.12), x(6.25), y(0.205), '#2f9e3c', { hl: 5, hw: 3 });

  // schematic inset: gapped density of states
  const sx = d3.scaleLinear().domain([0, 1]).range([174, 321.7]);
  const sy = d3.scaleLinear().domain([0, 1]).range([1032.3, 984.3]);
  const ins = g.append('g');
  ins.append('rect').attr('x', sx(0)).attr('y', 959).attr('width', sx(1) - sx(0)).attr('height', 93)
    .attr('fill', '#f2ee7c').attr('stroke', '#777').attr('stroke-width', 1);
  const dosL = [[0.18, 0], [0.29, 1], [0.41, 0]], dosR = [[0.63, 0], [0.75, 1], [0.87, 0]];
  [dosL, dosR].forEach(d => curve(ins, d, sx, sy, COL.black, 1.6));
  arrow(ins, sx(0.02), sy(0), sx(0.98), sy(0), COL.black, { sw: 1.4, hl: 7, hw: 3 });
  arrow(ins, sx(0.14), sy(0.5), sx(0.14), sy(1.0), COL.black, { sw: 1.2, hl: 6, hw: 2.5 });
  ins.append('line').attr('x1', sx(0.52)).attr('x2', sx(0.52)).attr('y1', sy(0)).attr('y2', sy(-0.1)).attr('stroke', COL.black);
  arrow(ins, sx(0.29), sy(1.05), sx(0.75), sy(1.05), COL.blue, { both: true, sw: 1.3, hl: 6, hw: 2.5 });
  arrow(ins, sx(0.36), sy(0.51), sx(0.67), sy(0.51), COL.red, { both: true, sw: 1.3, hl: 6, hw: 2.5 });
  arrow(ins, sx(0.41), sy(0.1), sx(0.63), sy(0.1), '#2f9e3c', { both: true, sw: 1.3, hl: 6, hw: 2.5 });
  rich(ins, sx(0.52), 980, [['Peak', '', COL.blue]], 9.5, { anchor: 'middle' });
  rich(ins, sx(0.52), 1002, [['Mid-point', '', COL.red]], 9.5, { anchor: 'middle' });
  rich(ins, sx(0.52), 1024, [['Onset', '', '#2f9e3c']], 9.5, { anchor: 'middle' });
  rich(ins, sx(0.5), 1045, ['E', ['F', 'sub']], 8.5);
  rich(ins, sx(0.755), 1045, ['Energy'], 9.5);
  rich(ins, sx(0.1), 1002, ['DOS'], 8.5, { rotate: true, anchor: 'middle' });

  rich(g, 55, 936, [['σ', 'i'], '(', ['ω', 'i'], ', ', ['T', 'i'], ')/', ['σ', 'i'], '(', ['ω', 'i'], ', ', ['T', 'i'], ' = 40 K)'], 17, { rotate: true, anchor: 'middle' });
  rich(g, 213, 1113, [['ħω', 'i'], ' (meV)'], 17, { anchor: 'middle' });
})();

// ===================== panel (e) =====================
(function () {
  const g = svg.append('g');
  const x = d3.scaleLinear().domain([0, 70]).range([415, 732.7]);
  const y = d3.scaleLinear().domain([0, 12.1]).range([1047.3, 754]);
  const pat = defs.append('pattern').attr('id', 'gapHatch').attr('width', 3).attr('height', 3)
    .attr('patternUnits', 'userSpaceOnUse');
  pat.append('rect').attr('width', 3).attr('height', 3).attr('fill', '#ec1c24');
  pat.append('path').attr('d', 'M0,0.4H3M0.4,0V3').attr('stroke', '#4a0608').attr('stroke-width', 0.7);

  const interp = (b, t) => b[0][1] + (b[1][1] - b[0][1]) * (t - b[0][0]) / (b[1][0] - b[0][0]);
  const cp = g.append('g').attr('clip-path', clipRect(415, 754, 317.7, 293.3));
  [[e_10K, e_base10], [e_20K, e_base20], [e_24K, e_base24], [e_28K, e_base28]].forEach(([d, b]) => {
    const inside = d.filter(p => p[0] > b[0][0] && p[0] < b[1][0]);
    const top = [b[0], ...inside, b[1]];
    const poly = top.concat(top.slice().reverse().map(p => [p[0], interp(b, p[0])]));
    cp.append('path').datum(poly)
      .attr('d', d3.line().x(p => x(p[0])).y(p => y(p[1])))
      .attr('fill', 'url(#gapHatch)').attr('stroke', '#7a1010').attr('stroke-width', 0.6);
  });
  [e_10K, e_20K, e_24K, e_28K, e_32K].forEach(d => curve(cp, d, x, y, '#1a1a1a', 1.1));
  frame(g, x, y, 1.3);
  sideAxis(g, y, 'left', 415, [0, 1, 2, 3, 4], { labels: [0, 2, 4], fs: 18, pad: 8, len: 5 });
  sideAxis(g, x, 'bottom', 1047.3, [0, 10, 20, 30, 40, 50, 60, 70], { labels: [0, 20, 40, 60], fs: 18, pad: 9, len: 5 });

  e_temps.forEach((t, k) => {
    const parts = t.startsWith('T') ? [['T', 'i'], t.slice(1)] : [t];
    rich(g, x(68.3), y(e_tempLabelY[k]), parts, 16, { anchor: 'end' });
  });
  rich(g, 595, 1003, ['CeRu', ['2', 'sub'], 'Al', ['10', 'sub']], 17);
  rich(g, 595, 1034, [['E', 'i'], ' // ', ['b', 'i']], 17);
  rich(g, 383, 975, sigmaLabel, 17, { rotate: true, anchor: 'middle' });
  rich(g, 573, 1097, hwLabel, 18, { anchor: 'middle' });
})();

// ===================== panel (f) =====================
(function () {
  const g = svg.append('g');
  const x = d3.scaleLinear().domain([0, 45]).range([809.3, 1186.7]);
  const y = d3.scaleLinear().domain([-1, 5]).range([1011.7, 779.3]);

  const cl = clipRect(770, 752, 60, 14);
  g.append('text').attr('x', 795).attr('y', 772).attr('font-size', 17).attr('font-family', FONT)
    .attr('text-anchor', 'middle').attr('clip-path', cl).attr('fill', COL.ink).text('(b)');

  const grad = defs.append('radialGradient').attr('id', 'ball').attr('cx', '38%').attr('cy', '35%').attr('r', '65%');
  grad.append('stop').attr('offset', '0%').attr('stop-color', '#ffb0a8');
  grad.append('stop').attr('offset', '35%').attr('stop-color', '#f0282a');
  grad.append('stop').attr('offset', '100%').attr('stop-color', '#b00a10');

  const cp = g.append('g').attr('clip-path', clipRect(809.3, 779.3, 377.4, 232.4));
  cp.append('line').attr('x1', x(0)).attr('x2', x(45)).attr('y1', y(0)).attr('y2', y(0))
    .attr('stroke', '#333').attr('stroke-width', 1).attr('stroke-dasharray', '5,4');
  cp.append('line').attr('x1', x(f_T0.ru)).attr('x2', x(f_T0.ru)).attr('y1', y(-1)).attr('y2', y(5))
    .attr('stroke', COL.red).attr('stroke-width', 1.3).attr('stroke-dasharray', '7,2.5,1.5,2.5');
  cp.append('line').attr('x1', x(f_T0.os)).attr('x2', x(f_T0.os)).attr('y1', y(-1)).attr('y2', y(5))
    .attr('stroke', '#3050c0').attr('stroke-width', 1.3).attr('stroke-dasharray', '7,2.5,1.5,2.5');
  curve(cp, f_os_fit, x, y, '#4b3fa8', 1.4);
  curve(cp, f_ru_fit, x, y, '#e0308a', 1.4);

  // Os: open squares with error bars
  f_os_T.forEach((t, i) => {
    const cx = x(t), v = f_os_N[i], e = f_os_err[i];
    cp.append('line').attr('x1', cx).attr('x2', cx).attr('y1', y(v - e)).attr('y2', y(v + e)).attr('stroke', '#3a4aa8').attr('stroke-width', 1.2);
    [v - e, v + e].forEach(w => cp.append('line').attr('x1', cx - 4.5).attr('x2', cx + 4.5).attr('y1', y(w)).attr('y2', y(w)).attr('stroke', '#3a4aa8').attr('stroke-width', 1.2));
    cp.append('rect').attr('x', cx - 4.5).attr('y', y(v) - 4.5).attr('width', 9).attr('height', 9)
      .attr('fill', '#fff').attr('stroke', '#3a4aa8').attr('stroke-width', 1.2);
    cp.append('circle').attr('cx', cx).attr('cy', y(v)).attr('r', 0.9).attr('fill', '#3a4aa8');
  });
  // Ru: filled balls with error bars
  f_ru_T.forEach((t, i) => {
    const cx = x(t), v = f_ru_N[i], e = f_ru_err[i];
    cp.append('line').attr('x1', cx).attr('x2', cx).attr('y1', y(v - e)).attr('y2', y(v + e)).attr('stroke', '#e02020').attr('stroke-width', 1.3);
    [v - e, v + e].forEach(w => cp.append('line').attr('x1', cx - 5).attr('x2', cx + 5).attr('y1', y(w)).attr('y2', y(w)).attr('stroke', '#e02020').attr('stroke-width', 1.3));
    cp.append('circle').attr('cx', cx).attr('cy', y(v)).attr('r', 6.5).attr('fill', 'url(#ball)');
  });

  frame(g, x, y, 1.4);
  sideAxis(g, y, 'left', 809.3, [-1, 0, 1, 2, 3, 4, 5], { labels: [0, 2, 4], fs: 20, pad: 10, len: 5 });
  sideAxis(g, y, 'right', 1186.7, [0, 1, 2, 3, 4], { len: 5 });
  sideAxis(g, x, 'bottom', 1011.7, [0, 5, 10, 15, 20, 25, 30, 35, 40], { labels: [0, 10, 20, 30, 40], fs: 20, pad: 10, len: 5 });
  sideAxis(g, x, 'top', 779.3, [5, 10, 15, 20, 25, 30, 35, 40], { len: 5 });

  rich(g, 1063, 857, ['CeOs', ['2', 'sub'], 'Al', ['10', 'sub']], 21, { fill: '#3a4aa8' });
  rich(g, 893, 924, ['CeRu', ['2', 'sub'], 'Al', ['10', 'sub']], 21, { fill: '#e82020' });
  rich(g, 815, 910, [['Δ', 'i'], '(', ['T', 'i'], ')', ['2', 'sup']], 20);
  arrow(g, x(3.3), y(2.31), x(6.25), y(4.34), COL.black);
  arrow(g, x(3.3), y(2.31), x(6.25), y(2.87), COL.black);
  rich(g, x(f_T0.ru) - 20, 993, [['T', 'i'], ['0', 'sub']], 18, { fill: COL.red });
  rich(g, x(f_T0.os) + 2, 993, [['T', 'i'], ['0', 'sub']], 18, { fill: '#3050c0' });

  rich(g, 762, 907, [['N', 'i'], ['eff', 'isub'], ' (10', ['19', 'sup'], ' cm', ['-3', 'sup'], ')'], 22, { rotate: true, anchor: 'middle' });
  rich(g, 1000, 1076, [['T', 'i'], ' (K)'], 22, { anchor: 'middle' });
})();
</script>
</body>
</html>
